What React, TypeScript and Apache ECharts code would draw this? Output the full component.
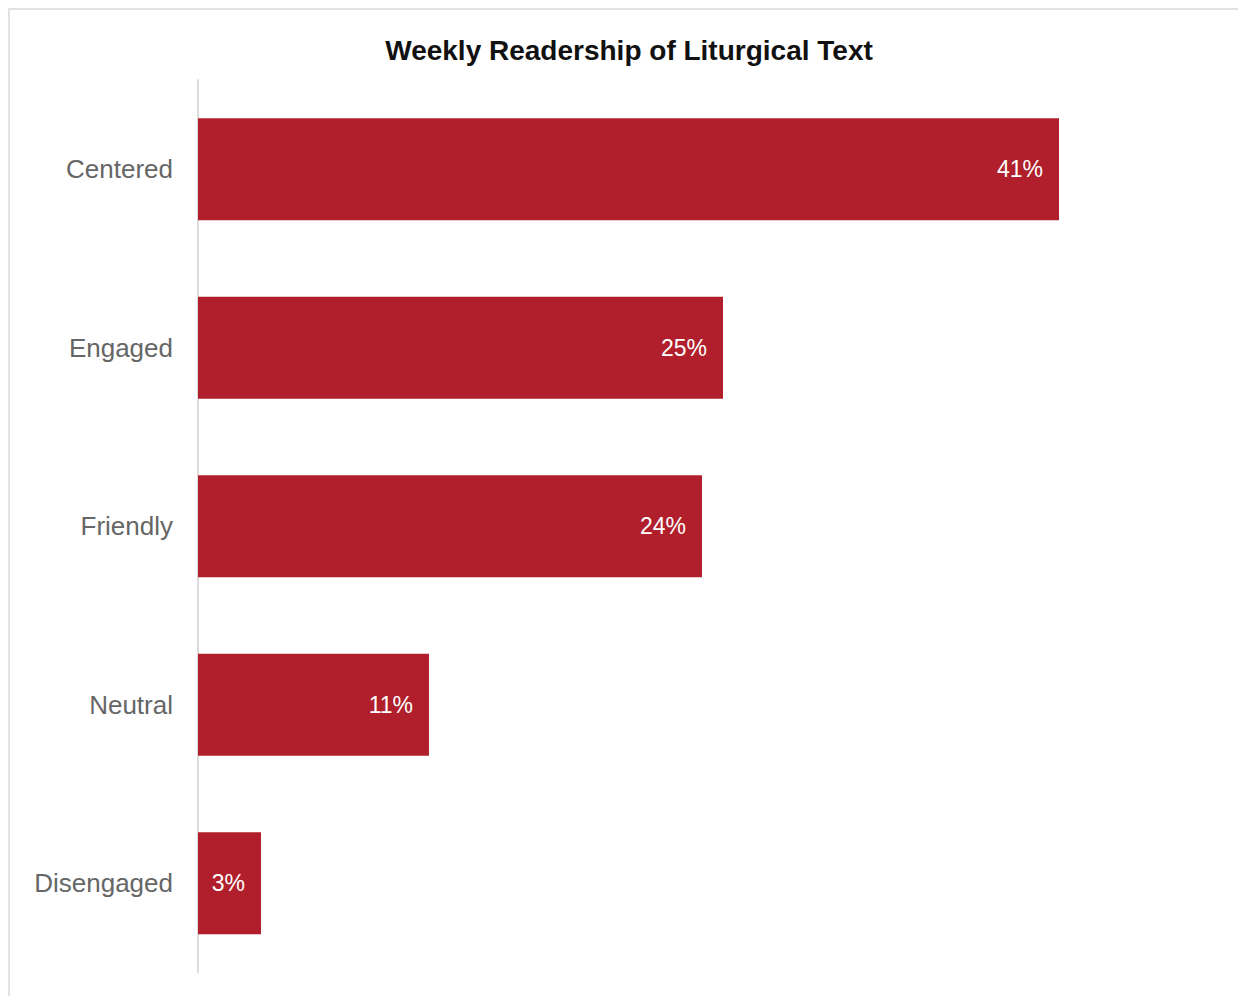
import React, { useEffect, useRef } from "react";
import * as echarts from "echarts";

const categories = ["Centered", "Engaged", "Friendly", "Neutral", "Disengaged"];
const values = [41, 25, 24, 11, 3];
const titleText = "Weekly Readership of Liturgical Text";

export default function App() {
  const ref = useRef<HTMLDivElement>(null);
  useEffect(() => {
    document.documentElement.style.overflow = "hidden";
    document.body.style.overflow = "hidden";
    const chart = echarts.init(ref.current!, null, { renderer: "svg" });
    chart.setOption({
      animation: false,
      graphic: [
        {
          type: "text",
          x: 619,
          y: 40,
          style: {
            text: titleText,
            textAlign: "center",
            textVerticalAlign: "middle",
            fontFamily: "Liberation Sans, Arial, sans-serif",
            fontSize: 28,
            fontWeight: "bold",
            fill: "#111",
          },
        },
      ],
      grid: { left: 188, top: 70, width: 945, height: 892.5 },
      xAxis: {
        type: "value",
        min: 0,
        max: 45,
        show: false,
      },
      yAxis: {
        type: "category",
        inverse: true,
        data: categories,
        axisLine: { show: true, lineStyle: { color: "#dcdcdc", width: 2 } },
        axisTick: { show: false },
        axisLabel: {
          margin: 25,
          fontSize: 26,
          color: "#666",
          fontFamily: "Liberation Sans, Arial, sans-serif",
        },
      },
      series: [
        {
          type: "bar",
          data: values,
          barWidth: 102,
          itemStyle: { color: "#b01f2b" },
          label: {
            show: true,
            position: "insideRight",
            distance: 16,
            formatter: "{c}%",
            color: "#fff",
            fontSize: 23,
            fontFamily: "Liberation Sans, Arial, sans-serif",
          },
        },
      ],
    });
    return () => chart.dispose();
  }, []);
  return (
    <div
      ref={ref}
      style={{
        width: 1238,
        height: 988,
        boxSizing: "border-box",
        borderTop: "2px solid #e3e3e3",
        borderLeft: "2px solid #e3e3e3",
      }}
    />
  );
}
